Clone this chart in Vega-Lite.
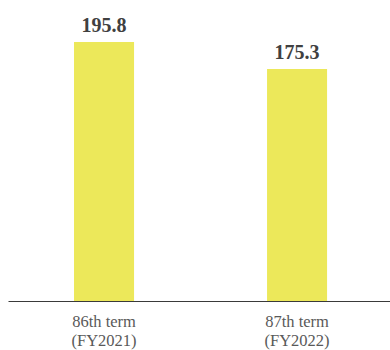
{
  "$schema": "https://vega.github.io/schema/vega-lite/v6.json",
  "width": 382,
  "height": 301,
  "autosize": {"type": "none"},
  "padding": {"left": 8, "top": 0, "right": 0, "bottom": 49},
  "background": "white",
  "config": {"view": {"stroke": null}},
  "data": {"values": [
    {"term": "86th term\n(FY2021)", "value": 195.8},
    {"term": "87th term\n(FY2022)", "value": 175.3}
  ]},
  "encoding": {
    "x": {
      "field": "term", "type": "nominal", "sort": null,
      "scale": {"paddingInner": 0.689, "paddingOuter": 0.334, "align": 0.512},
      "axis": {
        "title": null, "labelAngle": 0, "ticks": false,
        "domainColor": "#3a3a3a", "domainWidth": 1,
        "labelExpr": "split(datum.label, '\\n')",
        "labelFont": "Liberation Serif", "labelFontSize": 16.5,
        "labelColor": "#595959", "labelPadding": 12, "labelLineHeight": 19
      }
    },
    "y": {
      "field": "value", "type": "quantitative",
      "scale": {"domain": [0, 227.5], "nice": false},
      "axis": null
    }
  },
  "layer": [
    {"mark": {"type": "bar", "color": "#ECE85A"}},
    {
      "mark": {"type": "text", "baseline": "alphabetic", "dy": -10,
        "font": "Liberation Serif", "fontWeight": "bold", "fontSize": 20, "color": "#404040"},
      "encoding": {"text": {"field": "value", "type": "quantitative", "format": ".1f"}}
    }
  ]
}
